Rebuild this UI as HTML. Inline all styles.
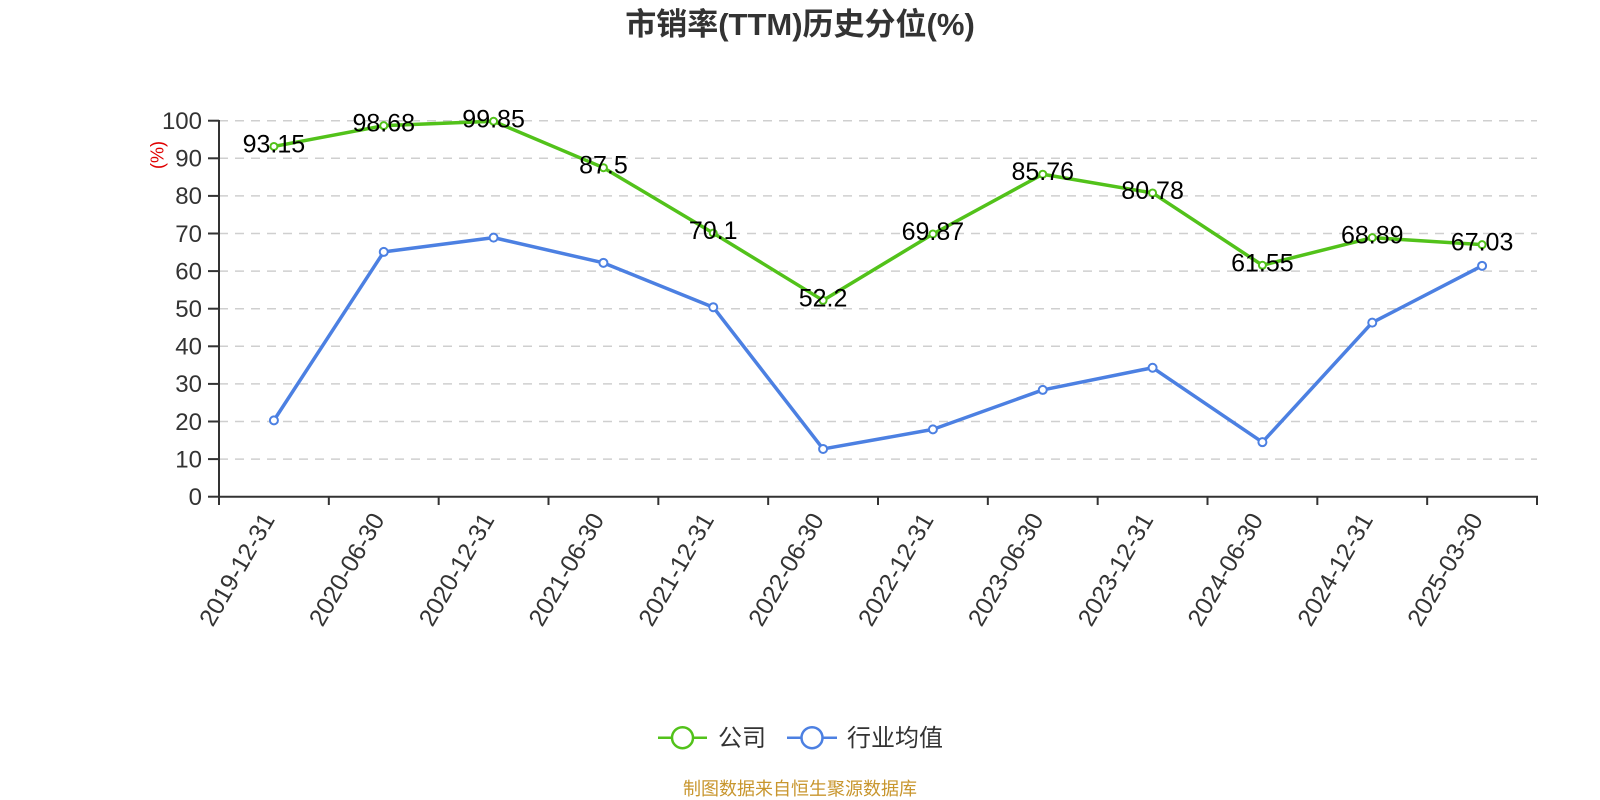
<!DOCTYPE html>
<html><head><meta charset="utf-8"><style>
html,body{margin:0;padding:0;background:#fff;}
svg{display:block;}
text{font-family:"Liberation Sans","Noto Sans CJK SC",sans-serif;}
</style></head><body>
<svg width="1600" height="800" viewBox="0 0 1600 800" xmlns="http://www.w3.org/2000/svg">
<rect width="1600" height="800" fill="#fff"/>
<text x="800" y="35" text-anchor="middle" font-size="31" font-weight="bold" fill="#333">市销率(TTM)历史分位(%)</text>
<g stroke="#cfcfcf" stroke-width="1.5" stroke-dasharray="9 7">
<line x1="219" y1="120.7" x2="1537" y2="120.7"/>
<line x1="219" y1="158.3" x2="1537" y2="158.3"/>
<line x1="219" y1="195.9" x2="1537" y2="195.9"/>
<line x1="219" y1="233.5" x2="1537" y2="233.5"/>
<line x1="219" y1="271.1" x2="1537" y2="271.1"/>
<line x1="219" y1="308.7" x2="1537" y2="308.7"/>
<line x1="219" y1="346.3" x2="1537" y2="346.3"/>
<line x1="219" y1="383.9" x2="1537" y2="383.9"/>
<line x1="219" y1="421.5" x2="1537" y2="421.5"/>
<line x1="219" y1="459.1" x2="1537" y2="459.1"/>
</g>
<g stroke="#333" stroke-width="2">
<line x1="219" y1="120" x2="219" y2="497.7"/>
<line x1="218" y1="496.7" x2="1538" y2="496.7"/>
<line x1="208" y1="120.7" x2="219" y2="120.7"/>
<line x1="208" y1="158.3" x2="219" y2="158.3"/>
<line x1="208" y1="195.9" x2="219" y2="195.9"/>
<line x1="208" y1="233.5" x2="219" y2="233.5"/>
<line x1="208" y1="271.1" x2="219" y2="271.1"/>
<line x1="208" y1="308.7" x2="219" y2="308.7"/>
<line x1="208" y1="346.3" x2="219" y2="346.3"/>
<line x1="208" y1="383.9" x2="219" y2="383.9"/>
<line x1="208" y1="421.5" x2="219" y2="421.5"/>
<line x1="208" y1="459.1" x2="219" y2="459.1"/>
<line x1="208" y1="496.7" x2="219" y2="496.7"/>
<line x1="219" y1="496.7" x2="219" y2="505"/>
<line x1="328.83" y1="496.7" x2="328.83" y2="505"/>
<line x1="438.67" y1="496.7" x2="438.67" y2="505"/>
<line x1="548.5" y1="496.7" x2="548.5" y2="505"/>
<line x1="658.33" y1="496.7" x2="658.33" y2="505"/>
<line x1="768.17" y1="496.7" x2="768.17" y2="505"/>
<line x1="878" y1="496.7" x2="878" y2="505"/>
<line x1="987.83" y1="496.7" x2="987.83" y2="505"/>
<line x1="1097.67" y1="496.7" x2="1097.67" y2="505"/>
<line x1="1207.5" y1="496.7" x2="1207.5" y2="505"/>
<line x1="1317.33" y1="496.7" x2="1317.33" y2="505"/>
<line x1="1427.17" y1="496.7" x2="1427.17" y2="505"/>
<line x1="1537" y1="496.7" x2="1537" y2="505"/>
</g>
<g font-size="24" fill="#333" text-anchor="end">
<text x="202" y="129">100</text>
<text x="202" y="166.6">90</text>
<text x="202" y="204.2">80</text>
<text x="202" y="241.8">70</text>
<text x="202" y="279.4">60</text>
<text x="202" y="317">50</text>
<text x="202" y="354.6">40</text>
<text x="202" y="392.2">30</text>
<text x="202" y="429.8">20</text>
<text x="202" y="467.4">10</text>
<text x="202" y="505">0</text>
</g>
<text transform="translate(157,155) rotate(-90)" text-anchor="middle" dy="0.35em" font-size="18" fill="#e00000">(%)</text>
<g font-size="24.5" fill="#333" text-anchor="end">
<text transform="translate(268,515) rotate(-60)" dy="0.35em">2019-12-31</text>
<text transform="translate(377.75,515) rotate(-60)" dy="0.35em">2020-06-30</text>
<text transform="translate(487.58,515) rotate(-60)" dy="0.35em">2020-12-31</text>
<text transform="translate(597.42,515) rotate(-60)" dy="0.35em">2021-06-30</text>
<text transform="translate(707.25,515) rotate(-60)" dy="0.35em">2021-12-31</text>
<text transform="translate(817.08,515) rotate(-60)" dy="0.35em">2022-06-30</text>
<text transform="translate(926.92,515) rotate(-60)" dy="0.35em">2022-12-31</text>
<text transform="translate(1036.75,515) rotate(-60)" dy="0.35em">2023-06-30</text>
<text transform="translate(1146.58,515) rotate(-60)" dy="0.35em">2023-12-31</text>
<text transform="translate(1256.42,515) rotate(-60)" dy="0.35em">2024-06-30</text>
<text transform="translate(1366.25,515) rotate(-60)" dy="0.35em">2024-12-31</text>
<text transform="translate(1476.08,515) rotate(-60)" dy="0.35em">2025-03-30</text>
</g>
<polyline fill="none" stroke="#4c80e2" stroke-width="3.5" stroke-linejoin="round" points="273.92,420.37 383.75,251.92 493.58,237.64 603.42,262.83 713.25,307.2 823.08,448.95 932.92,429.4 1042.75,389.92 1152.58,367.73 1262.42,442.18 1372.25,322.61 1482.08,265.84"/>
<polyline fill="none" stroke="#52c21a" stroke-width="3.5" stroke-linejoin="round" points="273.92,146.46 383.75,125.66 493.58,121.26 603.42,167.7 713.25,233.12 823.08,300.43 932.92,233.99 1042.75,174.24 1152.58,192.97 1262.42,265.27 1372.25,237.67 1482.08,244.67"/>
<g fill="#fff" stroke="#4c80e2" stroke-width="2">
<circle cx="273.92" cy="420.37" r="4"/><circle cx="383.75" cy="251.92" r="4"/><circle cx="493.58" cy="237.64" r="4"/><circle cx="603.42" cy="262.83" r="4"/><circle cx="713.25" cy="307.2" r="4"/><circle cx="823.08" cy="448.95" r="4"/><circle cx="932.92" cy="429.4" r="4"/><circle cx="1042.75" cy="389.92" r="4"/><circle cx="1152.58" cy="367.73" r="4"/><circle cx="1262.42" cy="442.18" r="4"/><circle cx="1372.25" cy="322.61" r="4"/><circle cx="1482.08" cy="265.84" r="4"/>
</g>
<g fill="#fff" stroke="#52c21a" stroke-width="2">
<circle cx="273.92" cy="146.46" r="3.5"/><circle cx="383.75" cy="125.66" r="3.5"/><circle cx="493.58" cy="121.26" r="3.5"/><circle cx="603.42" cy="167.7" r="3.5"/><circle cx="713.25" cy="233.12" r="3.5"/><circle cx="823.08" cy="300.43" r="3.5"/><circle cx="932.92" cy="233.99" r="3.5"/><circle cx="1042.75" cy="174.24" r="3.5"/><circle cx="1152.58" cy="192.97" r="3.5"/><circle cx="1262.42" cy="265.27" r="3.5"/><circle cx="1372.25" cy="237.67" r="3.5"/><circle cx="1482.08" cy="244.67" r="3.5"/>
</g>
<g font-size="25" fill="#000" text-anchor="middle">
<text x="273.92" y="152.5">93.15</text>
<text x="383.75" y="131.7">98.68</text>
<text x="493.58" y="127.3">99.85</text>
<text x="603.42" y="173.7">87.5</text>
<text x="713.25" y="239.1">70.1</text>
<text x="823.08" y="306.4">52.2</text>
<text x="932.92" y="240">69.87</text>
<text x="1042.75" y="180.2">85.76</text>
<text x="1152.58" y="199">80.78</text>
<text x="1262.42" y="271.3">61.55</text>
<text x="1372.25" y="243.7">68.89</text>
<text x="1482.08" y="250.7">67.03</text>
</g>
<line x1="658" y1="737.7" x2="707" y2="737.7" stroke="#52c21a" stroke-width="2.5"/>
<circle cx="682.5" cy="737.7" r="10.5" fill="#fff" stroke="#52c21a" stroke-width="2.5"/>
<text x="718" y="746" font-size="24" fill="#333">公司</text>
<line x1="787" y1="737.7" x2="837" y2="737.7" stroke="#4c80e2" stroke-width="2.5"/>
<circle cx="812" cy="737.7" r="10.5" fill="#fff" stroke="#4c80e2" stroke-width="2.5"/>
<text x="847" y="746" font-size="24" fill="#333">行业均值</text>
<text x="800" y="795" text-anchor="middle" font-size="18" fill="#c8962e">制图数据来自恒生聚源数据库</text>
</svg>
</body></html>
